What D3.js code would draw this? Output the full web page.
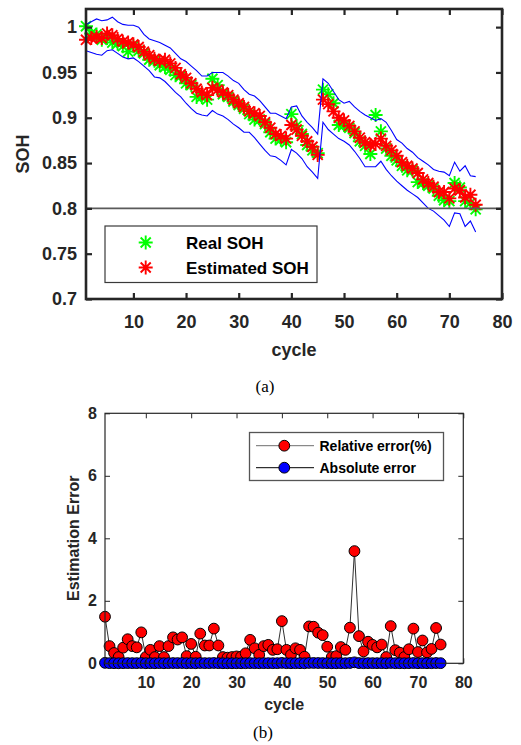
<!DOCTYPE html>
<html>
<head>
<meta charset="utf-8">
<script src="https://cdn.jsdelivr.net/npm/d3@7"></script>
<style>
  body { margin: 0; background: #fff; }
  svg { display: block; }
</style>
</head>
<body>
<svg id="fig" width="521" height="745"></svg>
<script>
// ---- data: SOH per cycle (cycles 1..75) ----
const realSOH = [1.001,0.993,0.992,0.986,0.988,0.983,0.982,0.979,0.973,0.979,
  0.974,0.971,0.964,0.963,0.958,0.956,0.953,0.947,0.946,0.938,
  0.936,0.923,0.923,0.920,0.943,0.936,0.926,0.923,0.918,0.914,
  0.910,0.904,0.898,0.898,0.893,0.884,0.877,0.876,0.873,0.904,
  0.891,0.882,0.870,0.864,0.861,0.931,0.926,0.916,0.892,0.892,
  0.889,0.883,0.874,0.869,0.860,0.903,0.885,0.866,0.858,0.853,
  0.847,0.842,0.842,0.829,0.828,0.825,0.822,0.814,0.809,0.808,
  0.828,0.823,0.808,0.806,0.799];

const estSOH = [0.986,0.988,0.989,0.988,0.993,0.991,0.987,0.984,0.983,0.981,
  0.978,0.973,0.969,0.965,0.963,0.964,0.960,0.955,0.948,0.944,
  0.938,0.932,0.928,0.925,0.933,0.931,0.928,0.925,0.920,0.916,
  0.912,0.907,0.905,0.902,0.895,0.889,0.882,0.880,0.877,0.892,
  0.887,0.880,0.874,0.868,0.859,0.920,0.915,0.907,0.900,0.897,
  0.891,0.885,0.878,0.873,0.870,0.871,0.877,0.869,0.864,0.858,
  0.851,0.847,0.844,0.839,0.832,0.828,0.824,0.818,0.818,0.811,
  0.822,0.820,0.812,0.815,0.804];

const upperBound = [1.003,1.006,1.009,1.007,1.008,1.011,1.006,1.003,1.002,1.002,
  1.000,0.992,0.987,0.985,0.983,0.980,0.977,0.971,0.965,0.962,
  0.957,0.952,0.946,0.946,0.950,0.950,0.950,0.946,0.941,0.938,
  0.931,0.926,0.924,0.919,0.912,0.905,0.905,0.902,0.899,0.912,
  0.913,0.902,0.895,0.889,0.882,0.943,0.938,0.929,0.920,0.916,
  0.918,0.912,0.907,0.903,0.900,0.897,0.899,0.895,0.886,0.876,
  0.872,0.866,0.862,0.856,0.852,0.848,0.843,0.841,0.840,0.836,
  0.851,0.841,0.847,0.836,0.835];

const lowerBound = [0.974,0.972,0.970,0.969,0.974,0.975,0.971,0.967,0.965,0.966,
  0.962,0.957,0.952,0.945,0.944,0.940,0.934,0.928,0.923,0.916,
  0.910,0.905,0.903,0.902,0.908,0.904,0.902,0.898,0.893,0.889,
  0.884,0.884,0.878,0.871,0.864,0.858,0.857,0.853,0.848,0.865,
  0.861,0.855,0.846,0.840,0.833,0.895,0.887,0.882,0.877,0.874,
  0.870,0.863,0.855,0.846,0.846,0.846,0.852,0.843,0.836,0.830,
  0.825,0.820,0.816,0.812,0.806,0.800,0.797,0.792,0.787,0.780,
  0.795,0.794,0.780,0.786,0.774];

// ---- data: estimation errors per cycle ----
const relError = [1.49,0.55,0.33,0.20,0.50,0.77,0.55,0.51,0.99,0.20,
  0.43,0.20,0.55,0.20,0.55,0.83,0.76,0.83,0.23,0.62,
  0.21,0.95,0.57,0.57,1.11,0.57,0.20,0.18,0.20,0.22,
  0.21,0.32,0.75,0.48,0.27,0.55,0.59,0.43,0.45,1.35,
  0.43,0.27,0.48,0.43,0.21,1.18,1.17,0.98,0.90,0.53,
  0.20,0.23,0.52,0.43,1.14,3.59,0.87,0.38,0.69,0.59,
  0.51,0.60,0.20,1.19,0.42,0.34,0.20,0.45,1.11,0.36,
  0.73,0.35,0.46,1.13,0.60];

const absError = [0.0147,0.0054,0.0032,0.0020,0.0048,0.0076,0.0054,0.0050,0.0097,0.0020,
  0.0042,0.0019,0.0053,0.0019,0.0053,0.0080,0.0072,0.0079,0.0022,0.0059,
  0.0020,0.0088,0.0051,0.0051,0.0103,0.0051,0.0019,0.0017,0.0018,0.0020,
  0.0019,0.0029,0.0068,0.0043,0.0024,0.0049,0.0052,0.0038,0.0039,0.0120,
  0.0038,0.0024,0.0042,0.0037,0.0018,0.0108,0.0107,0.0089,0.0081,0.0048,
  0.0018,0.0020,0.0045,0.0038,0.0099,0.0313,0.0076,0.0032,0.0060,0.0051,
  0.0043,0.0050,0.0017,0.0100,0.0036,0.0026,0.0016,0.0037,0.0090,0.0028,
  0.0062,0.0026,0.0037,0.0091,0.0047];

// ---- ticks and reference level ----
const sohTicks = [0.7, 0.75, 0.8, 0.85, 0.9, 0.95, 1];
const cycleTicks = [10, 20, 30, 40, 50, 60, 70, 80];
const errTicks = [0, 2, 4, 6, 8];
const eolLevel = 0.8;

const SANS = '"Liberation Sans", Arial, Helvetica, sans-serif';
const SERIF = '"Liberation Serif", "Times New Roman", serif';
const INK = '#262626';

const svg = d3.select('#fig');

// asterisk marker path (plus + cross)
function asterisk(r) {
  const a = r * 0.72;
  return `M${-r},0H${r}M0,${-r}V${r}M${-a},${-a}L${a},${a}M${-a},${a}L${a},${-a}`;
}

function styleAxis(g, fontSize, strokeW) {
  g.attr('font-family', SANS).attr('font-size', fontSize).attr('font-weight', 'bold');
  g.select('.domain').remove();
  g.selectAll('.tick line').attr('stroke', INK).attr('stroke-width', strokeW);
  g.selectAll('.tick text').attr('fill', INK);
}

// ================= (a) SOH estimation =================
const xA = d3.scaleLinear().domain([1, 80]).range([86, 502]);
const yA = d3.scaleLinear().domain([0.7, 1.02]).range([299, 9]);
const gA = svg.append('g');

const MARK_R = 7;
const MARK_W = 1.9;

// real SOH
gA.append('g').selectAll('path').data(realSOH).join('path')
  .attr('d', asterisk(MARK_R))
  .attr('transform', (d, i) => `translate(${xA(i + 1)},${yA(d)})`)
  .attr('stroke', '#00ff00').attr('stroke-width', MARK_W).attr('fill', 'none');

// estimated SOH
gA.append('g').selectAll('path').data(estSOH).join('path')
  .attr('d', asterisk(MARK_R))
  .attr('transform', (d, i) => `translate(${xA(i + 1)},${yA(d)})`)
  .attr('stroke', '#ff0000').attr('stroke-width', MARK_W).attr('fill', 'none');

// confidence bounds
const boundLine = d3.line().x((d, i) => xA(i + 1)).y(d => yA(d));
[upperBound, lowerBound].forEach(b => {
  gA.append('path').attr('d', boundLine(b))
    .attr('fill', 'none').attr('stroke', '#0000ff').attr('stroke-width', 1.1);
});

// end-of-life reference
gA.append('line')
  .attr('x1', xA(1)).attr('x2', xA(80))
  .attr('y1', yA(eolLevel)).attr('y2', yA(eolLevel))
  .attr('stroke', '#5a5a5a').attr('stroke-width', 1.8);

// axes
const axA = [
  gA.append('g').attr('transform', `translate(0,${yA(0.7)})`)
    .call(d3.axisBottom(xA).tickValues(cycleTicks).tickSize(-6).tickSizeOuter(0).tickPadding(16.5)),
  gA.append('g').attr('transform', `translate(0,${yA(1.02)})`)
    .call(d3.axisTop(xA).tickValues(cycleTicks).tickSize(-6).tickSizeOuter(0).tickFormat('')),
  gA.append('g').attr('transform', `translate(${xA(1)},0)`)
    .call(d3.axisLeft(yA).tickValues(sohTicks).tickSize(-6).tickSizeOuter(0).tickPadding(9).tickFormat(d => String(d))),
  gA.append('g').attr('transform', `translate(${xA(80)},0)`)
    .call(d3.axisRight(yA).tickValues(sohTicks).tickSize(-6).tickSizeOuter(0).tickFormat(''))
];
axA.forEach(g => styleAxis(g, 18, 2.2));
gA.append('rect')
  .attr('x', xA(1)).attr('y', yA(1.02))
  .attr('width', xA(80) - xA(1)).attr('height', yA(0.7) - yA(1.02))
  .attr('fill', 'none').attr('stroke', INK).attr('stroke-width', 2.6);

gA.append('text').text('cycle')
  .attr('x', (xA(1) + xA(80)) / 2).attr('y', 355.5)
  .attr('text-anchor', 'middle').attr('font-family', SANS)
  .attr('font-size', 18).attr('font-weight', 'bold').attr('fill', INK);
gA.append('text').text('SOH')
  .attr('transform', `translate(28.5,${(yA(0.7) + yA(1.02)) / 2}) rotate(-90)`)
  .attr('text-anchor', 'middle').attr('font-family', SANS)
  .attr('font-size', 18).attr('font-weight', 'bold').attr('fill', INK);

// legend (a)
const legA = gA.append('g');
legA.append('rect').attr('x', 105).attr('y', 226).attr('width', 212).attr('height', 56.5)
  .attr('fill', '#fff').attr('stroke', '#3a3a3a').attr('stroke-width', 1.2);
[['Real SOH', '#00ff00', 242.5], ['Estimated SOH', '#ff0000', 267.5]].forEach(([label, col, yy]) => {
  legA.append('path').attr('d', asterisk(MARK_R))
    .attr('transform', `translate(145.7,${yy})`)
    .attr('stroke', col).attr('stroke-width', MARK_W).attr('fill', 'none');
  legA.append('text').text(label).attr('x', 186).attr('y', yy).attr('dy', '0.36em')
    .attr('font-family', SANS).attr('font-size', 17).attr('font-weight', 'bold').attr('fill', '#000');
});

svg.append('text').text('(a)')
  .attr('x', 265).attr('y', 392).attr('text-anchor', 'middle')
  .attr('font-family', SERIF).attr('font-size', 17).attr('fill', '#000');

// ================= (b) estimation error =================
const xB = d3.scaleLinear().domain([1, 80]).range([105, 463.3]);
const yB = d3.scaleLinear().domain([0, 8]).range([663.3, 413.3]);
const gB = svg.append('g');

const errLine = d3.line().x((d, i) => xB(i + 1)).y(d => yB(d));

// relative error (%)
gB.append('path').attr('d', errLine(relError))
  .attr('fill', 'none').attr('stroke', '#1a1a1a').attr('stroke-width', 0.9);
gB.append('g').selectAll('circle').data(relError).join('circle')
  .attr('cx', (d, i) => xB(i + 1)).attr('cy', d => yB(d)).attr('r', 5.4)
  .attr('fill', '#ff0000').attr('stroke', '#000').attr('stroke-width', 1);

// absolute error
gB.append('path').attr('d', errLine(absError))
  .attr('fill', 'none').attr('stroke', '#000').attr('stroke-width', 0.9);
gB.append('g').selectAll('circle').data(absError).join('circle')
  .attr('cx', (d, i) => xB(i + 1)).attr('cy', d => yB(d)).attr('r', 5.4)
  .attr('fill', '#0000ff').attr('stroke', '#000').attr('stroke-width', 1);

const axB = [
  gB.append('g').attr('transform', `translate(0,${yB(0)})`)
    .call(d3.axisBottom(xB).tickValues(cycleTicks).tickSize(-5).tickSizeOuter(0).tickPadding(13)),
  gB.append('g').attr('transform', `translate(0,${yB(8)})`)
    .call(d3.axisTop(xB).tickValues(cycleTicks).tickSize(-5).tickSizeOuter(0).tickFormat('')),
  gB.append('g').attr('transform', `translate(${xB(1)},0)`)
    .call(d3.axisLeft(yB).tickValues(errTicks).tickSize(-5).tickSizeOuter(0).tickPadding(8)),
  gB.append('g').attr('transform', `translate(${xB(80)},0)`)
    .call(d3.axisRight(yB).tickValues(errTicks).tickSize(-5).tickSizeOuter(0).tickFormat(''))
];
axB.forEach(g => styleAxis(g, 16, 1));
gB.append('rect')
  .attr('x', xB(1)).attr('y', yB(8))
  .attr('width', xB(80) - xB(1)).attr('height', yB(0) - yB(8))
  .attr('fill', 'none').attr('stroke', INK).attr('stroke-width', 1.2);

gB.append('text').text('cycle')
  .attr('x', (xB(1) + xB(80)) / 2).attr('y', 710)
  .attr('text-anchor', 'middle').attr('font-family', SANS)
  .attr('font-size', 16).attr('font-weight', 'bold').attr('fill', INK);
gB.append('text').text('Estimation Error')
  .attr('transform', `translate(78.5,${(yB(0) + yB(8)) / 2}) rotate(-90)`)
  .attr('text-anchor', 'middle').attr('font-family', SANS)
  .attr('font-size', 16).attr('font-weight', 'bold').attr('fill', INK);

// legend (b)
const legB = gB.append('g');
legB.append('rect').attr('x', 249.5).attr('y', 432.5).attr('width', 194).attr('height', 48)
  .attr('fill', '#fff').attr('stroke', '#555').attr('stroke-width', 1.3);
[['Relative error(%)', '#ff0000', '#6e6e6e', 445.7], ['Absolute error', '#0000ff', '#000', 467.7]].forEach(([label, fill, lc, yy]) => {
  legB.append('line').attr('x1', 256).attr('x2', 314).attr('y1', yy).attr('y2', yy)
    .attr('stroke', lc).attr('stroke-width', 1);
  legB.append('circle').attr('cx', 284.3).attr('cy', yy).attr('r', 5.4)
    .attr('fill', fill).attr('stroke', '#000').attr('stroke-width', 1);
  legB.append('text').text(label).attr('x', 319.5).attr('y', yy).attr('dy', '0.36em')
    .attr('font-family', SANS).attr('font-size', 14).attr('font-weight', 'bold').attr('fill', '#000');
});

svg.append('text').text('(b)')
  .attr('x', 263).attr('y', 738).attr('text-anchor', 'middle')
  .attr('font-family', SERIF).attr('font-size', 17).attr('fill', '#000');
</script>
</body>
</html>
